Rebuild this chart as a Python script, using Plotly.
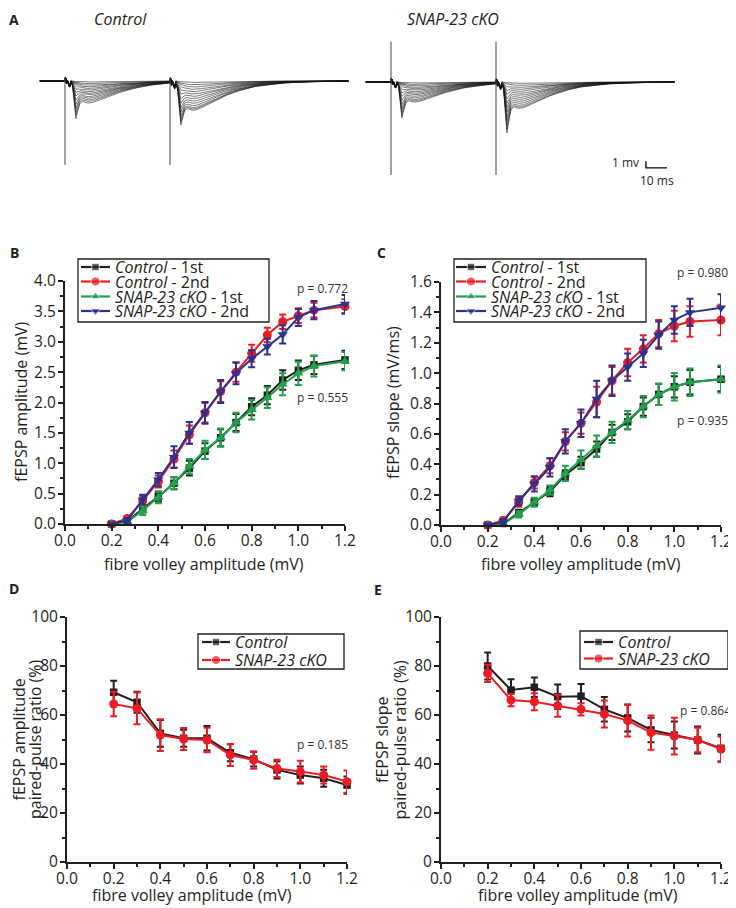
import numpy as np
import plotly.graph_objects as go

W, H = 736, 908          # browser window
PAGE_MARGIN = 8          # default <body> margin of the page that holds the figure
FW, FH = W - PAGE_MARGIN, H - PAGE_MARGIN
FONT = "Open Sans"

# ---------------- Panel A : example sweeps ----------------
ISI_MS = 50.0                      # paired-pulse interval
SWEEP_T0, SWEEP_T1 = -12.0, 135.0  # sweep window (ms from 1st stimulus)
# digitised template shapes (ms after a stimulus)
ONSET_T = [0, 0.3, 0.7, 1.1, 1.6, 2.1, 2.7, 3.3]
ONSET_V = [0, 0.8, -0.6, 0.2, -0.3, -1.0, 0.1, 0]          # artefact tail + fibre volley (mV)
EPSP_T = [0, 2, 3, 4, 5, 6, 7, 8, 10, 12, 14, 17, 20, 25, 30, 35, 40, 50, 60, 75, 90]
EPSP_V = [0, 0.02, 0.12, 0.3, 0.5, 0.66, 0.8, 0.9, 0.99, 1.0, 0.95, 0.84, 0.72,
          0.55, 0.4, 0.29, 0.2, 0.09, 0.04, 0.01, 0]          # normalised depth
SPIKE_T = [0, 3.6, 4.4, 5.2, 6.0, 6.8, 7.6, 8.5]
SPIKE_V = [0, 0, 0.45, 1.0, 0.6, 0.25, 0.08, 0]             # normalised depth
# amplitudes (mV) of each of the 14 sweeps
CTRL_EPSP_1 = [0.15, 0.4, 0.65, 0.9, 1.15, 1.4, 1.65, 1.9, 2.15, 2.4, 2.65, 2.9, 3.15, 3.4]
CTRL_SPIKE_1 = [0, 0, 0, 0, 0.2, 0.5, 0.9, 1.3, 1.8, 2.3, 2.8, 3.2, 3.6, 4.0]
CTRL_EPSP_2 = [0.2, 0.55, 0.9, 1.25, 1.6, 1.95, 2.3, 2.65, 3.0, 3.35, 3.7, 4.0, 4.2, 4.4]
CTRL_SPIKE_2 = [0, 0, 0, 0.2, 0.5, 0.9, 1.4, 1.9, 2.4, 2.8, 3.2, 3.6, 3.9, 4.2]
KO_EPSP_1 = [0.15, 0.38, 0.6, 0.83, 1.05, 1.28, 1.5, 1.73, 1.95, 2.2, 2.45, 2.7, 2.9, 3.1]
KO_SPIKE_1 = [0, 0, 0, 0, 0.2, 0.5, 0.9, 1.3, 1.8, 2.3, 2.8, 3.2, 3.6, 3.9]
KO_EPSP_2 = [0.2, 0.5, 0.8, 1.1, 1.4, 1.7, 2.0, 2.3, 2.6, 2.9, 3.2, 3.5, 3.75, 3.95]
KO_SPIKE_2 = [0, 0, 0.3, 0.7, 1.1, 1.6, 2.1, 2.6, 3.1, 3.6, 4.1, 4.6, 5.1, 5.5]
# stimulus artefacts (mV extent)
CTRL_ARTEFACT = [0.6, -12.9]
KO_ARTEFACT = [6.2, -14.3]

# ---------------- Panel B / C : input-output ----------------
FV = [0.2, 0.267, 0.333, 0.4, 0.467, 0.533, 0.6, 0.667, 0.733, 0.8, 0.867, 0.933, 1.0, 1.067, 1.2]

AMP_CTRL_1ST = [0, 0.05, 0.25, 0.45, 0.67, 0.92, 1.2, 1.42, 1.67, 1.93, 2.12, 2.37, 2.53, 2.62, 2.7]
AMP_CTRL_1ST_ERR = [0.02, 0.03, 0.06, 0.08, 0.1, 0.12, 0.13, 0.14, 0.14, 0.14, 0.15, 0.16, 0.16, 0.15, 0.15]
AMP_CTRL_2ND = [0, 0.09, 0.38, 0.7, 1.07, 1.47, 1.83, 2.18, 2.5, 2.81, 3.11, 3.33, 3.43, 3.52, 3.58]
AMP_CTRL_2ND_ERR = [0.02, 0.04, 0.08, 0.1, 0.14, 0.15, 0.16, 0.17, 0.16, 0.14, 0.12, 0.12, 0.12, 0.12, 0.12]
AMP_KO_1ST = [0, 0.04, 0.22, 0.44, 0.67, 0.95, 1.22, 1.42, 1.67, 1.88, 2.08, 2.3, 2.48, 2.6, 2.68]
AMP_KO_1ST_ERR = [0.02, 0.03, 0.07, 0.1, 0.1, 0.12, 0.15, 0.15, 0.16, 0.16, 0.17, 0.18, 0.19, 0.17, 0.15]
AMP_KO_2ND = [0, 0.06, 0.4, 0.73, 1.1, 1.5, 1.83, 2.18, 2.48, 2.72, 2.92, 3.12, 3.4, 3.52, 3.62]
AMP_KO_2ND_ERR = [0.02, 0.04, 0.08, 0.11, 0.18, 0.18, 0.18, 0.19, 0.18, 0.14, 0.13, 0.15, 0.14, 0.15, 0.15]

SLOPE_CTRL_1ST = [0, 0.01, 0.08, 0.15, 0.22, 0.33, 0.41, 0.5, 0.61, 0.68, 0.78, 0.86, 0.91, 0.94, 0.96]
SLOPE_CTRL_1ST_ERR = [0.01, 0.01, 0.02, 0.02, 0.03, 0.03, 0.04, 0.05, 0.05, 0.05, 0.06, 0.07, 0.07, 0.08, 0.08]
SLOPE_CTRL_2ND = [0, 0.03, 0.15, 0.28, 0.39, 0.55, 0.67, 0.81, 0.95, 1.07, 1.16, 1.26, 1.31, 1.34, 1.35]
SLOPE_CTRL_2ND_ERR = [0.01, 0.02, 0.03, 0.04, 0.05, 0.06, 0.07, 0.1, 0.09, 0.09, 0.09, 0.09, 0.1, 0.1, 0.1]
SLOPE_KO_1ST = [0, 0.01, 0.07, 0.15, 0.23, 0.34, 0.43, 0.52, 0.61, 0.69, 0.78, 0.86, 0.91, 0.94, 0.96]
SLOPE_KO_1ST_ERR = [0.01, 0.01, 0.02, 0.03, 0.03, 0.05, 0.06, 0.07, 0.07, 0.06, 0.07, 0.07, 0.09, 0.09, 0.09]
SLOPE_KO_2ND = [0, 0.02, 0.16, 0.27, 0.38, 0.55, 0.67, 0.83, 0.95, 1.04, 1.13, 1.25, 1.35, 1.40, 1.43]
SLOPE_KO_2ND_ERR = [0.01, 0.02, 0.03, 0.05, 0.06, 0.08, 0.09, 0.12, 0.1, 0.09, 0.09, 0.09, 0.09, 0.09, 0.09]

# ---------------- Panel D / E : paired-pulse ratio ----------------
FV_PPR = [0.2, 0.3, 0.4, 0.5, 0.6, 0.7, 0.8, 0.9, 1.0, 1.1, 1.2]
PPR_AMP_CTRL = [69.3, 65.2, 52.5, 50.5, 50.5, 44.6, 42.0, 37.6, 35.5, 34.2, 31.4]
PPR_AMP_CTRL_ERR = [4.7, 4.3, 5.5, 3.5, 5.0, 3.5, 3.0, 3.5, 3.5, 3.5, 3.5]
PPR_AMP_KO = [64.5, 62.7, 51.8, 50.2, 49.8, 43.7, 41.6, 38.2, 36.9, 35.5, 32.8]
PPR_AMP_KO_ERR = [5.0, 6.5, 6.5, 4.5, 5.0, 4.5, 3.5, 3.5, 4.4, 3.5, 4.5]
PPR_SLOPE_CTRL = [80.0, 70.2, 71.3, 67.5, 67.7, 62.3, 58.8, 53.9, 51.8, 49.8, 46.4]
PPR_SLOPE_CTRL_ERR = [5.5, 4.4, 4.0, 5.0, 5.0, 5.0, 5.5, 5.0, 5.5, 5.5, 5.5]
PPR_SLOPE_KO = [77.0, 66.1, 65.4, 63.8, 62.3, 60.4, 57.7, 52.8, 51.4, 49.8, 46.1]
PPR_SLOPE_KO_ERR = [3.5, 2.5, 3.5, 4.5, 2.5, 5.5, 6.5, 7.0, 7.5, 5.0, 5.0]

P_TEXT = {"B2": "p = 0.772", "B1": "p = 0.555", "C2": "p = 0.980", "C1": "p = 0.935",
          "D": "p = 0.185", "E": "p = 0.864"}

BLACK, RED, GREEN, BLUE = "#231f20", "#ed1c24", "#1fa24a", "#2b3191"


# ---------------- helpers (positions given in window pixels) ----------------
def dom_x(a, b):
    return [(a - PAGE_MARGIN) / FW, (b - PAGE_MARGIN) / FW]


def dom_y(top, bottom):
    return [1 - (bottom - PAGE_MARGIN) / FH, 1 - (top - PAGE_MARGIN) / FH]


fig = go.Figure()

# Panel A sweeps
t = np.arange(SWEEP_T0, SWEEP_T1 + 0.001, 0.2)


def shape(tt, kt, kv):
    return np.interp(tt, kt, kv, left=0.0, right=0.0)


def sweeps(e1, p1, e2, p2, xa, ya, artefact):
    for a1, s1, a2, s2 in zip(e1, p1, e2, p2):
        v = (shape(t, ONSET_T, ONSET_V) + shape(t - ISI_MS, ONSET_T, ONSET_V)
             - a1 * shape(t, EPSP_T, EPSP_V) - s1 * shape(t, SPIKE_T, SPIKE_V)
             - a2 * shape(t - ISI_MS, EPSP_T, EPSP_V) - s2 * shape(t - ISI_MS, SPIKE_T, SPIKE_V))
        fig.add_trace(go.Scatter(x=t, y=v, mode="lines", xaxis=xa, yaxis=ya,
                                 line=dict(color="rgba(20,20,20,0.8)", width=0.7),
                                 hoverinfo="skip", showlegend=False))
    for ts in (0.0, ISI_MS):
        fig.add_trace(go.Scatter(x=[ts, ts], y=artefact, mode="lines", xaxis=xa, yaxis=ya,
                                 line=dict(color="#444", width=1), hoverinfo="skip",
                                 showlegend=False))


sweeps(CTRL_EPSP_1, CTRL_SPIKE_1, CTRL_EPSP_2, CTRL_SPIKE_2, "x", "y", CTRL_ARTEFACT)
sweeps(KO_EPSP_1, KO_SPIKE_1, KO_EPSP_2, KO_SPIKE_2, "x2", "y2", KO_ARTEFACT)

# scale bar (in cKO axes units: 10 ms, 1 mV)
SB_T, SB_V = 121.4, -13.2
fig.add_trace(go.Scatter(x=[SB_T, SB_T, SB_T + 10], y=[SB_V + 1, SB_V, SB_V], mode="lines",
                         xaxis="x2", yaxis="y2", line=dict(color="black", width=1.3),
                         hoverinfo="skip", showlegend=False))


def series(x, y, err, color, symbol, xa, ya, size=9):
    fig.add_trace(go.Scatter(
        x=x, y=y, mode="lines+markers", xaxis=xa, yaxis=ya, cliponaxis=False,
        line=dict(color=color, width=2),
        marker=dict(symbol=symbol, size=size, color=color),
        error_y=dict(type="data", array=err, color=color, thickness=2, width=3.5),
        showlegend=False))


series(FV, AMP_CTRL_1ST, AMP_CTRL_1ST_ERR, BLACK, "square", "x3", "y3", 7.5)
series(FV, AMP_CTRL_2ND, AMP_CTRL_2ND_ERR, RED, "circle", "x3", "y3")
series(FV, AMP_KO_1ST, AMP_KO_1ST_ERR, GREEN, "triangle-up", "x3", "y3")
series(FV, AMP_KO_2ND, AMP_KO_2ND_ERR, BLUE, "triangle-down", "x3", "y3")

series(FV, SLOPE_CTRL_1ST, SLOPE_CTRL_1ST_ERR, BLACK, "square", "x4", "y4", 7.5)
series(FV, SLOPE_CTRL_2ND, SLOPE_CTRL_2ND_ERR, RED, "circle", "x4", "y4")
series(FV, SLOPE_KO_1ST, SLOPE_KO_1ST_ERR, GREEN, "triangle-up", "x4", "y4")
series(FV, SLOPE_KO_2ND, SLOPE_KO_2ND_ERR, BLUE, "triangle-down", "x4", "y4")

series(FV_PPR, PPR_AMP_CTRL, PPR_AMP_CTRL_ERR, BLACK, "square", "x5", "y5", 7.5)
series(FV_PPR, PPR_AMP_KO, PPR_AMP_KO_ERR, RED, "circle", "x5", "y5")

series(FV_PPR, PPR_SLOPE_CTRL, PPR_SLOPE_CTRL_ERR, BLACK, "square", "x6", "y6", 7.5)
series(FV_PPR, PPR_SLOPE_KO, PPR_SLOPE_KO_ERR, RED, "circle", "x6", "y6")

# ---------------- legends & texts (drawn in a window-pixel overlay axis) ----------------
annotations = []
shapes = []


def text(x, y, s, size=16, xanchor="center", angle=0, color="#231f20", bold=False):
    annotations.append(dict(x=x, y=y, xref="x7", yref="y7", text=("<b>%s</b>" % s) if bold else s,
                            showarrow=False, xanchor=xanchor, yanchor="middle", textangle=angle,
                            font=dict(family=FONT, size=size, color=color)))


def legend(box, x0, x1, tx, rows):
    shapes.append(dict(type="rect", xref="x7", yref="y7", x0=box[0], x1=box[1], y0=box[2], y1=box[3],
                       line=dict(color="#231f20", width=1.3), fillcolor="rgba(0,0,0,0)"))
    for y, color, symbol, size, label in rows:
        fig.add_trace(go.Scatter(x=[x0, (x0 + x1) / 2, x1], y=[y, y, y], mode="lines+markers",
                                 xaxis="x7", yaxis="y7", line=dict(color=color, width=2.2),
                                 marker=dict(symbol=symbol, size=[0, size, 0], color=color),
                                 hoverinfo="skip", showlegend=False))
        text(tx, y, label, size=16, xanchor="left")


ROWS4 = [(BLACK, "square", 7.5, "<i>Control</i> - 1st"),
         (RED, "circle", 9, "<i>Control</i> - 2nd"),
         (GREEN, "triangle-up", 9, "<i>SNAP-23 cKO</i> - 1st"),
         (BLUE, "triangle-down", 9, "<i>SNAP-23 cKO</i> - 2nd")]
ROWS2 = [(BLACK, "square", 7.5, "<i>Control</i>"), (RED, "circle", 9, "<i>SNAP-23 cKO</i>")]
Y4 = [267, 281.5, 296.5, 311]
legend((78, 269, 259, 322), 81, 110, 113, [(y,) + r for y, r in zip(Y4, ROWS4)])
legend((454, 646, 259, 322), 456, 486, 489, [(y,) + r for y, r in zip(Y4, ROWS4)])
legend((198, 344, 634, 669), 202, 230, 233, [(y,) + r for y, r in zip([642, 660], ROWS2)])
legend((580, 728, 631, 669), 584, 613, 616, [(y,) + r for y, r in zip([642, 658.5], ROWS2)])

# titles, panel letters, axis titles, p values
text(120, 19, "<i>Control</i>", size=16)
text(453, 19, "<i>SNAP-23 cKO</i>", size=16)
for lx, ly, L in [(14, 19, "A"), (14, 252, "B"), (381, 252, "C"), (14, 588, "D"), (378, 589, "E")]:
    text(lx, ly, L, size=14, bold=True)
text(641, 162, "1 mv", size=12, xanchor="right")
text(657, 180, "10 ms", size=12)

text(21, 402, "fEPSP amplitude (mV)", angle=-90)
text(393, 403, "fEPSP slope (mV/ms)", angle=-90)
text(18.5, 740, "fEPSP amplitude", angle=-90)
text(35, 740, "paired-pulse ratio (%)", angle=-90)
text(382, 740, "fEPSP slope", angle=-90)
text(399.5, 740, "paired-pulse ratio (%)", angle=-90)
for cx, cy in [(204, 564), (581, 564), (192, 895), (578, 895)]:
    text(cx, cy, "fibre volley amplitude (mV)")

text(322.5, 288, P_TEXT["B2"], size=12, color="#333")
text(322.5, 397, P_TEXT["B1"], size=12, color="#333")
text(702, 272, P_TEXT["C2"], size=12, color="#333")
text(702, 420, P_TEXT["C1"], size=12, color="#333")
text(322.5, 744, P_TEXT["D"], size=12, color="#333")
text(705, 710, P_TEXT["E"], size=12, color="#333")


# ---------------- axes ----------------
def data_axis(domain, rng, dtick, mdtick, fmt, standoff):
    return dict(domain=domain, range=rng, showline=True, linewidth=2, linecolor="#231f20",
                ticks="outside", ticklen=5, tickwidth=1.5, tickcolor="#231f20",
                tick0=0, dtick=dtick, tickformat=fmt, ticklabelstandoff=standoff,
                minor=dict(ticks="outside", ticklen=3, tickwidth=1.5, tickcolor="#231f20",
                           tick0=0, dtick=mdtick, showgrid=False),
                showgrid=False, zeroline=False, fixedrange=True, automargin=False,
                tickfont=dict(family=FONT, size=15.5, color="#231f20"))


hidden = dict(visible=False, showgrid=False, zeroline=False, fixedrange=True, automargin=False)
PX_PER_MS, PX_PER_MV = 2.1, 6.5

layout = dict(
    width=FW, height=FH, autosize=False,
    margin=dict(l=0, r=0, t=0, b=0, pad=0, autoexpand=False),
    paper_bgcolor="white", plot_bgcolor="rgba(0,0,0,0)", showlegend=False,
    font=dict(family=FONT, color="#231f20"),
    xaxis=dict(hidden, domain=dom_x(30, 360), anchor="y",
               range=[(30 - 65) / PX_PER_MS, (360 - 65) / PX_PER_MS]),
    yaxis=dict(hidden, domain=dom_y(30, 180), anchor="x",
               range=[-(180 - 81) / PX_PER_MV, (81 - 30) / PX_PER_MV]),
    xaxis2=dict(hidden, domain=dom_x(360, 700), anchor="y2",
                range=[(360 - 391) / PX_PER_MS, (700 - 391) / PX_PER_MS]),
    yaxis2=dict(hidden, domain=dom_y(30, 180), anchor="x2",
                range=[-(180 - 82) / PX_PER_MV, (82 - 30) / PX_PER_MV]),
    xaxis3=dict(data_axis(dom_x(65, 345), [0, 1.2], 0.2, 0.1, ".1f", -4), anchor="y3"),
    yaxis3=dict(data_axis(dom_y(281, 524), [0, 4.0], 0.5, 0.25, ".1f", -1), anchor="x3"),
    xaxis4=dict(data_axis(dom_x(441, 721), [0, 1.2], 0.2, 0.1, ".1f", -4), anchor="y4"),
    yaxis4=dict(data_axis(dom_y(282, 525), [0, 1.6], 0.2, 0.1, ".1f", -1), anchor="x4"),
    xaxis5=dict(data_axis(dom_x(67, 347), [0, 1.2], 0.2, 0.1, ".1f", -4), anchor="y5"),
    yaxis5=dict(data_axis(dom_y(617, 862), [0, 100], 20, 10, "d", -1), anchor="x5"),
    xaxis6=dict(data_axis(dom_x(441, 721), [0, 1.2], 0.2, 0.1, ".1f", -4), anchor="y6"),
    yaxis6=dict(data_axis(dom_y(617, 862), [0, 100], 20, 10, "d", -1), anchor="x6"),
    xaxis7=dict(hidden, domain=[0, 1], range=[PAGE_MARGIN, W], anchor="y7"),
    yaxis7=dict(hidden, domain=[0, 1], range=[H, PAGE_MARGIN], anchor="x7"),
    annotations=annotations, shapes=shapes,
)
fig.update_layout(**layout)
fig.write_html("out.html")
